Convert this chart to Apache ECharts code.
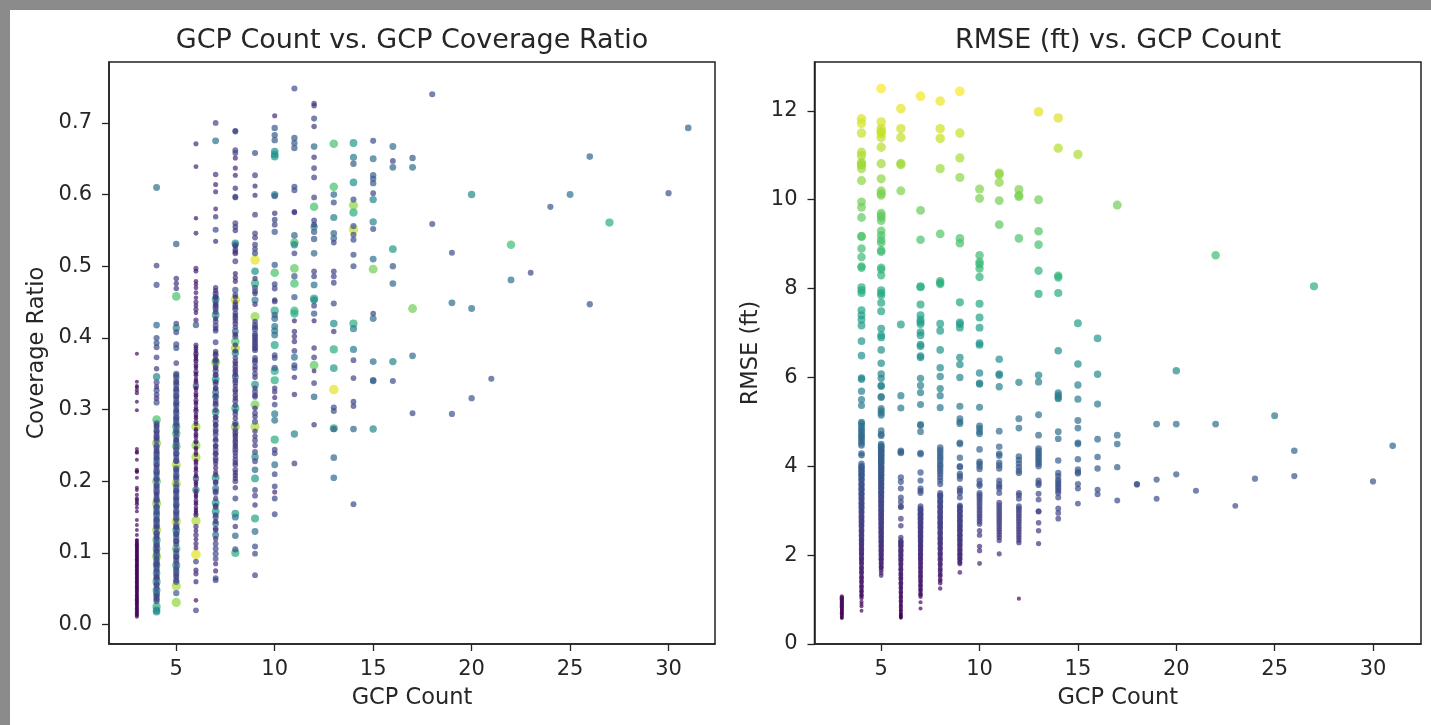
<!DOCTYPE html>
<html><head><meta charset="utf-8">
<style>html,body{margin:0;padding:0;background:#8b8b8b;overflow:hidden}#c{width:1431px;height:725px;filter:blur(0.7px)}</style>
<script src="https://cdn.jsdelivr.net/npm/echarts@6/dist/echarts.min.js"></script>
</head><body><div id="c"></div>
<script>
// RMSE (ft), one list per GCP count
const rmse3=[0.58,0.6,0.62,0.65,0.67,0.69,0.71,0.73,0.75,0.77,0.79,0.81,0.83,0.85,0.87,0.89,0.91,0.93,0.95,0.97,0.99,1.01,1.03,1.05,1.07];
const rmse4=[11.82,11.72,11.5,11.07,10.99,10.84,10.8,10.78,10.7,10.43,9.95,9.83,9.6,9.18,9.17,8.9,8.71,8.5,8.47,8.03,7.96,7.9,7.51,7.4,7.3,7.17,6.82,6.49,5.99,5.96,5.69,5.5,5.37,4.99,4.96,4.9,4.84,4.8,4.75,4.7,4.66,4.62,4.57,4.52,4.47,4.29,4.25,4.06,4.01,3.97,3.92,3.87,3.82,3.78,3.72,3.67,3.61,3.56,3.51,3.46,3.4,3.36,3.31,3.25,3.2,3.15,3.1,3.05,3,2.95,2.89,2.84,2.79,2.74,2.69,2.64,2.58,2.53,2.48,2.42,2.37,2.32,2.27,2.21,2.16,2.11,2.06,2.01,1.95,1.9,1.85,1.8,1.74,1.69,1.64,1.59,1.53,1.48,1.43,1.38,1.32,1.27,1.22,1.17,1.12,1.07,1.03,0.95,0.9,0.85,0.75,3.98,3.89,3.8,3.7,3.59,3.48,3.38,3.28,3.17,3.08,2.97,2.86,2.76,2.66,2.55,2.45,2.34,2.24,2.13,2.03,1.92,1.82,1.71,1.61,1.5,1.4,1.29,1.19,1.09];
const rmse5=[12.5,11.75,11.6,11.54,11.5,11.4,11.18,10.81,10.47,10.2,10.14,10.1,9.7,9.64,9.6,9.53,9.3,9.2,9.1,9.03,8.86,8.83,8.47,8.43,8.3,7.96,7.9,7.85,7.68,7.49,7.1,6.95,6.9,6.62,6.32,6.08,5.98,5.82,5.8,5.57,5.55,5.3,5.25,5.2,5.15,4.8,4.72,4.69,4.5,4.46,4.42,4.37,4.33,4.28,4.24,4.19,4.15,4.1,4.06,4.01,3.96,3.92,3.87,3.82,3.78,3.73,3.68,3.63,3.58,3.54,3.49,3.44,3.39,3.34,3.29,3.24,3.19,3.14,3.09,3.04,2.99,2.94,2.89,2.84,2.79,2.74,2.69,2.64,2.59,2.54,2.49,2.44,2.39,2.34,2.29,2.24,2.19,2.14,2.09,2.04,1.99,1.94,1.9,1.85,1.8,1.75,1.71,1.66,1.6,1.54,4.44,4.35,4.26,4.17,4.08,3.98,3.89,3.8,3.7,3.61,3.51,3.41,3.31,3.21,3.11,3.01,2.91,2.81,2.71,2.61,2.51,2.41,2.31,2.21,2.11,2.01,1.91,1.81,1.72];
const rmse6=[12.05,11.6,11.4,10.82,10.79,10.2,7.19,5.59,5.31,4.35,4.32,4.3,3.75,3.65,3.5,3.3,3.2,3.1,3.08,2.82,2.66,2.4,2.33,2.28,2.24,2.19,2.13,2.08,2.03,1.97,1.92,1.87,1.82,1.76,1.71,1.66,1.6,1.55,1.5,1.45,1.39,1.34,1.29,1.24,1.18,1.13,1.08,1.03,0.98,0.93,0.88,0.83,0.79,0.74,0.7,0.66,0.62,0.59,2.3,2.21,2.1,2,1.9,1.79,1.68,1.58,1.47,1.37,1.26,1.16,1.06,0.96,0.86,0.76,0.68,0.64,0.6];
const rmse7=[12.33,9.76,9.1,8.05,8.03,7.64,7.4,7.3,7.25,7.2,7.02,6.95,6.74,6.7,6.48,6.45,5.98,5.82,5.66,5.39,4.94,4.92,4.78,4.3,4.27,3.86,3.68,3.5,3.45,3.4,3.1,3.05,3,2.95,2.9,2.85,2.8,2.75,2.7,2.65,2.6,2.55,2.5,2.45,2.4,2.35,2.3,2.25,2.2,2.15,2.1,2.05,2,1.95,1.9,1.85,1.8,1.75,1.7,1.65,1.6,1.55,1.5,1.45,1.4,1.35,1.3,1.25,1.2,1.15,1.1,1.06,0.94,0.8,3.02,2.92,2.82,2.72,2.62,2.52,2.42,2.32,2.22,2.12,2.02,1.92,1.82,1.72,1.62,1.52,1.42,1.32,1.22,1.12];
const rmse8=[12.22,11.6,11.38,10.7,9.23,8.17,8.13,8.1,7.21,7.05,6.62,6.22,6.02,5.75,5.59,5.32,4.42,4.36,4.3,4.24,4.18,4.12,4.05,4,3.94,3.88,3.82,3.75,3.68,3.6,3.4,3.35,3.3,3.24,3.18,3.12,3.06,3,2.94,2.88,2.82,2.76,2.7,2.65,2.59,2.53,2.47,2.41,2.35,2.3,2.24,2.18,2.12,2.06,2,1.94,1.88,1.82,1.76,1.7,1.64,1.58,1.52,1.45,1.37,1.25,3.33,3.21,3.09,2.97,2.85,2.73,2.62,2.5,2.38,2.27,2.15,2.03,1.91,1.79,1.67,1.55,1.42];
const rmse9=[12.44,11.5,10.94,10.5,9.13,9.02,7.69,7.24,7.2,7.12,6.45,6.29,6,5.35,5.07,5,4.96,4.53,4.5,4.19,4,3.98,3.83,3.78,3.72,3.5,3.45,3.4,3.3,3.12,3.07,3.02,2.97,2.91,2.86,2.8,2.75,2.7,2.64,2.59,2.54,2.48,2.43,2.38,2.32,2.27,2.21,2.16,2.1,2.05,2,1.95,1.9,1.85,1.8,1.61,3.09,2.99,2.88,2.77,2.66,2.56,2.45,2.34,2.23,2.12,2.02,1.92,1.83];
const rmse10=[10.24,10.03,8.75,8.6,8.55,8.45,8.26,7.66,7.35,7.12,6.77,6.73,6.1,5.87,5.85,5.33,4.91,4.85,4.78,4.73,4.38,4.1,4.06,4,3.94,3.68,3.6,3.56,3.4,3.35,3.3,3.24,3.18,3.12,3.06,3,2.94,2.88,2.82,2.76,2.7,2.55,2.45,2.2,2.1,1.81];
const rmse11=[10.6,10.57,10.39,9.98,9.44,6.41,6.08,6.05,5.79,4.79,4.44,4.28,4.24,4.08,4.02,3.95,3.68,3.6,3.55,3.5,3.4,3.18,3.12,3.06,3,2.94,2.88,2.82,2.76,2.7,2.64,2.58,2.52,2.46,2.4,2.33,2.03];
const rmse12=[10.23,10.1,10.07,9.13,5.89,5.07,4.86,4.22,4.14,4.06,3.98,3.9,3.85,3.4,3.35,3.27,3.1,3.05,3,2.94,2.88,2.82,2.76,2.7,2.64,2.58,2.52,2.46,2.4,2.34,2.28,1.02];
const rmse13=[11.98,10,9.29,8.99,8.4,7.88,6.05,5.9,5.16,4.7,4.4,4.35,4.3,4.25,4.2,4.15,4.1,4.05,4,3.68,3.62,3.58,3.38,3.25,2.99,2.98,2.73,2.55,2.26];
const rmse14=[11.84,11.16,8.29,8.25,7.9,6.6,5.65,5.6,5.55,5.52,4.78,4.62,4.13,3.85,3.78,3.7,3.65,3.6,3.55,3.5,3.45,3.4,3.3,3.05,2.95,2.82];
const rmse15=[11.02,7.22,6.3,5.83,5.51,5.03,4.86,4.53,4.5,4.16,3.93,3.87,3.84,3.6,3.5,3.16];
const rmse16=[6.88,6.07,5.4,4.61,4.21,3.95,3.47,3.37];
const rmse17=[9.88,4.7,4.5,3.98,3.23];
const rmse18=[3.6,3.59];
const rmse19=[4.95,3.7,3.27];
const rmse20=[6.15,4.95,3.82];
const rmse21=[3.45];
const rmse22=[8.75,4.95];
const rmse23=[3.11];
const rmse24=[3.72];
const rmse25=[5.14];
const rmse26=[4.35,3.78];
const rmse27=[8.05];
const rmse30=[3.66];
const rmse31=[4.46];

// Coverage ratio, with the RMSE that its colour shows: [ratio, rmse]
const cov3=[[0.378,.9],[0.339,.9],[0.333,.8],[0.327,.95],[0.323,1.05],[0.311,.8],[0.299,.85],[0.245,.9],[0.24,1],[0.23,.8],[0.216,.95],[0.213,1.05],[0.205,.9],[0.188,.8],[0.181,.9],[0.176,1],[0.171,.9],[0.168,1.05],[0.158,.75],[0.146,.9],[0.139,.8],[0.132,.7],[0.125,.85],[0.118,.9],[0.115,.7],[0.112,.8],[0.109,1],[0.106,.65],[0.103,.9],[0.1,.75],[0.097,.85],[0.094,.6],[0.091,1.05],[0.088,.7],[0.085,.8],[0.082,.95],[0.079,.65],[0.076,.85],[0.073,.7],[0.07,.9],[0.067,.6],[0.064,1],[0.061,.75],[0.058,.85],[0.055,.65],[0.052,.95],[0.049,.7],[0.046,.8],[0.043,.6],[0.04,.9],[0.037,.7],[0.034,1],[0.031,.65],[0.028,.85],[0.025,.75],[0.022,.9],[0.019,.6],[0.016,.8],[0.013,.7],[0.011,.9],
[0.117,.8],[0.113,.7],[0.11,.9],[0.107,.75],[0.104,.85],[0.101,.65],[0.098,.8],[0.095,.9],[0.092,.7],[0.089,.85],[0.086,.75],[0.083,.65],[0.08,.9],[0.077,.8],[0.074,.7],[0.071,.85],[0.068,.75],[0.065,.9],[0.062,.65],[0.059,.8],[0.056,.7],[0.053,.85],[0.05,.75],[0.047,.9],[0.044,.65],[0.041,.8],[0.038,.7],[0.035,.85],[0.032,.75],[0.029,.9],[0.026,.65],[0.023,.8],[0.02,.7],[0.017,.85],[0.014,.75],[0.241,.9],[0.214,1],[0.191,.9],[0.174,.95],[0.163,.8],[0.331,.9]];
const cov4=[[0.61,5],[0.501,3],[0.474,3.5],[0.418,4.5],[0.4,3.5],[0.393,3.6],[0.387,3.2],[0.373,3],[0.357,2.5],[0.346,6],[0.338,3.4],[0.332,2],[0.327,3.5],[0.321,3],[0.316,2.6],[0.31,3.6],[0.286,9],[0.281,3.5],[0.276,3.2],[0.271,3.8],[0.266,3],[0.262,4],[0.257,3.4],[0.253,10.5],[0.247,3.8],[0.243,3],[0.238,4.2],[0.234,3.4],[0.229,4],[0.224,4.5],[0.219,3.2],[0.214,4.8],[0.209,3.6],[0.204,4.2],[0.2,9.5],[0.195,3.4],[0.19,3.8],[0.186,4.6],[0.181,3],[0.176,4],[0.172,3.6],[0.169,10.5],[0.163,5],[0.158,4.2],[0.153,5.2],[0.148,3.8],[0.144,5],[0.139,4.4],[0.135,3.6],[0.132,11],[0.127,4.2],[0.123,3.4],[0.118,8],[0.113,4.6],[0.109,3.2],[0.106,7],[0.101,4],[0.097,5],[0.095,10.5],[0.09,3.6],[0.086,4.4],[0.083,6],[0.078,3.8],[0.072,6.5],[0.068,3.2],[0.064,4.2],[0.06,8],[0.055,3.6],[0.048,7],[0.043,5],[0.038,4.2],[0.033,3.8],[0.025,8],[0.02,6],[0.018,6.5],
[0.278,2.8],[0.269,3],[0.26,2.6],[0.25,3],[0.241,2.8],[0.232,3.2],[0.222,2.6],[0.212,3],[0.202,2.8],[0.193,3],[0.183,2.6],[0.174,3],[0.165,2.8],[0.156,3.2],[0.146,3],[0.137,2.8],[0.128,3.2],[0.12,2.8],[0.111,3],[0.103,2.6],[0.093,3],[0.084,2.8],[0.075,3],[0.066,2.8],[0.057,3],[0.05,3.2],[0.041,2.8],[0.035,3]];
const cov5=[[0.531,4.2],[0.483,2.5],[0.476,2.2],[0.469,2.6],[0.458,9],[0.42,3],[0.414,6],[0.408,3.2],[0.391,3.5],[0.386,3.6],[0.365,3],[0.35,3.8],[0.345,4],[0.34,3.4],[0.335,3.8],[0.33,3.2],[0.325,4],[0.32,3.6],[0.315,3],[0.31,4.2],[0.305,3.6],[0.3,3.2],[0.295,4],[0.29,3.8],[0.285,3.4],[0.281,4.2],[0.276,8],[0.271,3.6],[0.267,9],[0.262,3.8],[0.257,3.4],[0.253,4],[0.249,9],[0.244,3.6],[0.239,4.2],[0.234,3.2],[0.229,3.8],[0.223,11],[0.218,4],[0.213,3.4],[0.208,4.4],[0.203,3.6],[0.197,11.5],[0.192,3.8],[0.187,4.2],[0.183,3.4],[0.178,4],[0.173,3.6],[0.168,4.6],[0.164,3.2],[0.159,4],[0.154,3.6],[0.149,4.2],[0.144,11.5],[0.139,3.8],[0.135,3.4],[0.132,7],[0.127,4],[0.122,3.6],[0.117,4.4],[0.112,3.2],[0.106,9],[0.1,3.8],[0.095,4.2],[0.09,3.4],[0.083,7.5],[0.076,3.6],[0.072,4],[0.066,3.2],[0.06,4.2],[0.054,11],[0.044,4],[0.031,10.5],
[0.348,3],[0.338,2.8],[0.328,3],[0.318,3.2],[0.308,2.8],[0.298,3],[0.288,3.2],[0.278,2.8],[0.268,3],[0.258,2.8],[0.248,3.2],[0.238,3],[0.228,2.8],[0.216,3],[0.206,2.8],[0.196,3.2],[0.186,3],[0.176,2.8],[0.166,3],[0.156,3.2],[0.146,2.8],[0.136,3],[0.126,3.2],[0.116,2.8],[0.104,3],[0.094,2.8],[0.086,3],[0.079,3.2],[0.069,2.8],[0.062,3]];
const cov6=[[0.671,2],[0.639,1.8],[0.567,1.2],[0.546,1.8],[0.497,2],[0.493,1.8],[0.479,1.5],[0.475,1.2],[0.47,1.6],[0.463,1.8],[0.456,1.4],[0.45,2],[0.445,1.6],[0.44,2.2],[0.435,1.4],[0.425,2.2],[0.418,4],[0.39,2],[0.384,1.6],[0.378,2.4],[0.373,1.2],[0.368,2],[0.363,1.6],[0.358,1.3],[0.353,2.2],[0.348,1.5],[0.343,1.2],[0.338,1.8],[0.333,4],[0.328,1.4],[0.323,1.6],[0.318,1.2],[0.313,2],[0.308,1.5],[0.303,1.3],[0.298,2.4],[0.293,1.4],[0.288,1.2],[0.283,1.8],[0.276,11],[0.271,1.3],[0.266,1.6],[0.261,1.2],[0.256,1.9],[0.25,10.5],[0.245,1.2],[0.234,11],[0.24,1.5],[0.229,1.3],[0.224,1.7],[0.219,1.2],[0.214,1.5],[0.209,1.3],[0.204,4],[0.199,1.6],[0.194,1.2],[0.188,6],[0.183,1.4],[0.178,1.2],[0.173,1.7],[0.168,1.3],[0.163,1.5],[0.158,1.2],[0.153,2],[0.145,11],[0.137,2.2],[0.131,1.8],[0.125,2.4],[0.119,1.6],[0.113,2],[0.107,1.8],[0.098,12],[0.088,3],[0.076,2],[0.071,2.2],[0.06,2],[0.034,1.5],[0.02,3],
[0.387,1.4],[0.381,1.2],[0.375,1.5],[0.37,1.3],[0.36,1.4],[0.35,1.2],[0.34,1.5],[0.33,1.3],[0.32,1.4],[0.31,1.2],[0.3,1.5],[0.29,1.3],[0.28,1.4],[0.273,1.2],[0.264,1.5],[0.254,1.3],[0.247,1.4],[0.237,1.2],[0.227,1.5],[0.217,1.3],[0.207,1.4],[0.197,1.2],[0.187,1.5],[0.18,1.3],[0.17,1.4],[0.16,1.2],[0.155,1.4]];
const cov7=[[0.7,3],[0.675,5],[0.628,2.5],[0.614,2],[0.604,2],[0.58,1.8],[0.569,2.5],[0.551,3.5],[0.535,2],[0.47,2.5],[0.462,3.5],[0.458,3],[0.454,7],[0.449,3.2],[0.444,3.8],[0.44,3],[0.432,7],[0.423,3],[0.417,3.4],[0.41,2.8],[0.394,3],[0.381,2.6],[0.376,3.2],[0.37,2.8],[0.367,6],[0.366,11.5],[0.36,3],[0.354,3.6],[0.348,2.8],[0.342,7],[0.336,3.2],[0.33,3],[0.324,5],[0.318,5.2],[0.312,2.8],[0.306,3.4],[0.297,7],[0.29,3],[0.284,3.6],[0.278,2.8],[0.272,3.2],[0.265,3],[0.257,3.4],[0.25,2.6],[0.244,3],[0.238,3.4],[0.232,2.8],[0.225,2],[0.213,2],[0.205,7],[0.198,3],[0.19,5],[0.184,3.4],[0.17,7],[0.164,3],[0.158,7],[0.15,3.6],[0.141,5],[0.134,3],[0.125,5],[0.113,3],[0.106,3.2],[0.099,3.5],[0.092,3],[0.085,2],[0.075,2],[0.065,3],[0.062,3],
[0.466,2.2],[0.456,2.4],[0.446,2.2],[0.436,2.6],[0.427,2.2],[0.413,2.4],[0.378,2.2],[0.368,2.4],[0.358,2.2],[0.349,2.6],[0.339,2.2],[0.329,2.4],[0.319,2.2],[0.309,2.6],[0.299,2.2],[0.289,2.4],[0.279,2.2],[0.269,2.6],[0.259,2.2],[0.249,2.4],[0.239,2.2],[0.229,2.6],[0.219,2.2],[0.209,2.4],[0.199,2.2],[0.186,2.6],[0.176,2.2],[0.166,2.4],[0.153,2.6],[0.144,2.2],[0.132,2.4],[0.12,2.2]];
const cov8=[[0.689,3],[0.688,3],[0.662,3],[0.658,3],[0.651,2],[0.637,2],[0.627,2],[0.609,2.5],[0.597,3],[0.596,3],[0.56,3],[0.555,3],[0.55,2.6],[0.532,6.5],[0.53,4],[0.523,3],[0.518,3],[0.507,3],[0.49,2],[0.484,2.2],[0.479,2],[0.467,4],[0.46,3],[0.453,11.5],[0.446,3],[0.44,3.4],[0.434,2.8],[0.428,3.2],[0.42,3],[0.409,5],[0.402,3.4],[0.395,9],[0.386,11],[0.379,6],[0.367,3],[0.36,3.2],[0.353,2.8],[0.346,5],[0.338,3],[0.328,3],[0.32,2.6],[0.312,3.2],[0.302,7.5],[0.294,3],[0.281,4],[0.276,10.5],[0.268,3.2],[0.262,2.8],[0.255,3],[0.248,2.6],[0.244,3.2],[0.23,3],[0.223,2.8],[0.216,3],[0.208,2.4],[0.2,3],[0.191,2.5],[0.176,3],[0.155,7],[0.15,5],[0.137,2.5],[0.124,4.5],[0.105,3.5],[0.1,8],
[0.528,2.4],[0.52,2.2],[0.457,2.4],[0.45,2.2],[0.443,2.6],[0.431,2.2],[0.424,2.4],[0.415,2.6],[0.405,2.2],[0.39,2.4],[0.382,2.2],[0.372,2.6],[0.364,2.2],[0.356,2.4],[0.349,2.2],[0.341,2.6],[0.333,2.2],[0.325,2.4],[0.316,2.2],[0.306,2.6],[0.298,2.2],[0.288,2.4],[0.279,2.2],[0.272,2.6],[0.265,2.2],[0.258,2.4],[0.251,2.2],[0.24,2.6],[0.235,2.2],[0.226,2.4],[0.212,2.2],[0.204,2.4]];
const cov9=[[0.658,3.5],[0.627,3],[0.612,2],[0.599,2],[0.572,3],[0.546,3],[0.54,3],[0.53,3],[0.524,3],[0.518,3.5],[0.509,12],[0.493,6.5],[0.476,8],[0.47,3.5],[0.465,3],[0.453,5.5],[0.43,10.5],[0.418,3.5],[0.412,3.8],[0.406,3.2],[0.4,3.6],[0.394,3.4],[0.388,3.8],[0.383,3.2],[0.372,3],[0.366,3.2],[0.36,2.8],[0.35,3],[0.335,7],[0.325,3.4],[0.318,3],[0.307,10],[0.295,3],[0.283,3.5],[0.276,11],[0.263,2.5],[0.257,3],[0.241,3.2],[0.234,6],[0.228,3],[0.216,4.5],[0.204,7],[0.188,3],[0.18,3],[0.167,2.5],[0.148,7.5],[0.13,5],[0.109,3.5],[0.099,3],[0.069,3],
[0.483,2.4],[0.462,2.6],[0.447,2.4],[0.423,2.6],[0.415,2.4],[0.403,2.6],[0.397,2.4],[0.391,2.6],[0.385,2.4],[0.369,2.6],[0.356,2.4],[0.345,2.6],[0.33,2.4],[0.32,2.6],[0.302,2.4],[0.29,2.6],[0.27,2.4],[0.25,2.6]];
const cov10=[[0.71,2],[0.693,4],[0.683,4],[0.676,4],[0.66,6.5],[0.656,6.5],[0.653,7],[0.6,6],[0.598,4],[0.574,2.5],[0.565,3],[0.558,3],[0.548,4],[0.502,4],[0.491,9],[0.475,3],[0.469,3],[0.453,2.5],[0.451,3],[0.438,8],[0.432,4],[0.427,5],[0.416,5],[0.41,5.5],[0.404,5],[0.39,7.5],[0.376,3],[0.372,3],[0.358,4],[0.354,8],[0.341,8],[0.33,2.5],[0.325,2.5],[0.317,2],[0.307,3],[0.294,5.5],[0.285,5],[0.258,8],[0.244,3],[0.239,3],[0.223,5],[0.21,3],[0.193,3],[0.185,2],[0.176,3],[0.154,3]];
const cov11=[[0.748,3.5],[0.679,4],[0.672,4],[0.665,4],[0.611,3.5],[0.606,3.5],[0.576,2.5],[0.575,2.5],[0.543,4.5],[0.533,9],[0.53,6],[0.518,3],[0.497,9.5],[0.486,4],[0.476,9],[0.457,4],[0.438,8.5],[0.434,8],[0.424,2],[0.409,2.5],[0.402,2.5],[0.395,2.5],[0.382,3],[0.373,5],[0.362,3.5],[0.358,3.5],[0.345,2.5],[0.321,2.5],[0.266,6],[0.225,3]];
const cov12=[[0.727,2.5],[0.724,2.5],[0.706,3.5],[0.695,2.5],[0.667,4.5],[0.652,2.5],[0.637,3],[0.624,3],[0.596,3],[0.583,9],[0.564,3],[0.558,3],[0.555,6],[0.548,4],[0.538,4],[0.518,4.5],[0.493,3],[0.486,3],[0.474,5],[0.455,8],[0.453,6],[0.445,3],[0.434,4],[0.424,2],[0.386,2.5],[0.373,3],[0.362,9.5],[0.354,1.8],[0.337,3],[0.318,4.5],[0.279,2.5]];
const cov13=[[0.671,9],[0.611,9],[0.6,4.5],[0.589,3.5],[0.568,5.5],[0.546,4.5],[0.539,4.5],[0.533,3],[0.493,3],[0.486,3],[0.477,3],[0.448,3.5],[0.42,6.5],[0.409,2.5],[0.384,8],[0.358,7],[0.328,12],[0.303,3.5],[0.298,3.5],[0.274,8],[0.273,4],[0.233,4.5],[0.205,4.5]];
const cov14=[[0.672,7],[0.652,5.5],[0.643,4],[0.617,6.5],[0.593,3.5],[0.585,10.5],[0.575,8],[0.556,3.5],[0.551,11.5],[0.544,3.5],[0.537,3.5],[0.516,3.5],[0.5,3.5],[0.42,8],[0.413,5.5],[0.384,5.5],[0.369,3],[0.344,3],[0.311,3],[0.305,3],[0.273,4.5],[0.168,3.2]];
const cov15=[[0.675,3.5],[0.65,5],[0.627,4],[0.622,4],[0.616,4],[0.602,3],[0.593,6],[0.562,6],[0.552,3.5],[0.51,5],[0.496,10],[0.434,3],[0.427,5],[0.367,5],[0.341,4.2],[0.34,4.2],[0.273,6]];
const cov16=[[0.667,5],[0.647,3],[0.638,4.5],[0.524,7],[0.5,4],[0.476,4.5],[0.367,6],[0.34,3.5]];
const cov17=[[0.651,4],[0.638,5],[0.441,9.9],[0.375,4.7],[0.295,3.2]];
const cov18=[[0.74,3.5],[0.559,3.5]];
const cov19=[[0.519,3.3],[0.449,4.9],[0.294,3.7]];
const cov20=[[0.6,6.15],[0.441,4.95],[0.316,3.82]];
const cov21=[[0.343,3.45]];
const cov22=[[0.53,8.75],[0.481,4.95]];
const cov23=[[0.491,3.11]];
const cov24=[[0.583,3.72]];
const cov25=[[0.6,5.14]];
const cov26=[[0.653,4.35],[0.447,3.78]];
const cov27=[[0.561,8.05]];
const cov30=[[0.602,3.66]];
const cov31=[[0.693,4.46]];

const counts=[3,4,5,6,7,8,9,10,11,12,13,14,15,16,17,18,19,20,21,22,23,24,25,26,27,30,31];
const rmseLists=[rmse3,rmse4,rmse5,rmse6,rmse7,rmse8,rmse9,rmse10,rmse11,rmse12,rmse13,rmse14,rmse15,rmse16,rmse17,rmse18,rmse19,rmse20,rmse21,rmse22,rmse23,rmse24,rmse25,rmse26,rmse27,rmse30,rmse31];
const covLists=[cov3,cov4,cov5,cov6,cov7,cov8,cov9,cov10,cov11,cov12,cov13,cov14,cov15,cov16,cov17,cov18,cov19,cov20,cov21,cov22,cov23,cov24,cov25,cov26,cov27,cov30,cov31];
const countTicks=[5,10,15,20,25,30];
const ratioTicks=[0,0.1,0.2,0.3,0.4,0.5,0.6,0.7];
const rmseTicks=[0,2,4,6,8,10,12];

const leftData=[],rightData=[];
counts.forEach((n,i)=>{
  covLists[i].forEach(p=>leftData.push([n,p[0],p[1]]));
  rmseLists[i].forEach(v=>rightData.push([n,v,v]));
});
leftData.sort((a,b)=>b[2]-a[2]); // big light dots behind the small dark ones

const viridis=['#440154','#482475','#414487','#355f8d','#2a788e','#21918c','#22a884','#44bf70','#7ad151','#bddf26','#fde725'];
const FONT='DejaVu Sans', INK='#262626';
function xAxis(idx,min,max){return{gridIndex:idx,type:'value',min,max,name:'GCP Count',nameLocation:'middle',nameGap:43,
  nameTextStyle:{fontFamily:FONT,fontSize:22.5,color:INK},
  splitLine:{show:false},axisLine:{show:true,onZero:false,lineStyle:{color:'#222',width:1.5}},
  axisTick:{show:true,length:7,customValues:countTicks,lineStyle:{color:'#222',width:1.3}},
  axisLabel:{customValues:countTicks,fontFamily:FONT,fontSize:21,color:INK,margin:15}};}
function yAxis(idx,min,max,name,gap,ticks,fmt){return{gridIndex:idx,type:'value',min,max,name,nameLocation:'middle',nameGap:gap,
  nameTextStyle:{fontFamily:FONT,fontSize:22.5,color:INK},
  splitLine:{show:false},axisLine:{show:true,onZero:false,lineStyle:{color:'#222',width:1.5}},
  axisTick:{show:true,length:7,customValues:ticks,lineStyle:{color:'#222',width:1.3}},
  axisLabel:{customValues:ticks,formatter:fmt,fontFamily:FONT,fontSize:21,color:INK,margin:17,padding:[3,0,0,0]}};}
const size=v=>2+2.2*Math.sqrt(v[2]);
const chart=echarts.init(document.getElementById('c'),null,{renderer:'canvas'});
chart.setOption({
  animation:false,backgroundColor:'#8b8b8b',
  graphic:[{type:'rect',z:-10,silent:true,shape:{x:10,y:10,width:1421,height:715},style:{fill:'#ffffff'}}],
  title:[
    {text:'GCP Count vs. GCP Coverage Ratio',left:407,top:22,textAlign:'center',textStyle:{fontFamily:FONT,fontSize:27,fontWeight:'normal',color:INK}},
    {text:'RMSE (ft) vs. GCP Count',left:1113,top:22,textAlign:'center',textStyle:{fontFamily:FONT,fontSize:27,fontWeight:'normal',color:INK}}
  ],
  grid:[
    {left:109,top:62,width:606,height:582,show:true,borderColor:'#222',borderWidth:1.5,backgroundColor:'transparent'},
    {left:814.5,top:62,width:606.5,height:582,show:true,borderColor:'#222',borderWidth:1.5,backgroundColor:'transparent'}
  ],
  xAxis:[xAxis(0,1.584,32.36),xAxis(1,1.61,32.44)],
  yAxis:[yAxis(0,-0.027,0.785,'Coverage Ratio',60,ratioTicks,v=>v.toFixed(1)),yAxis(1,0,13.1,'RMSE (ft)',52,rmseTicks,v=>String(v))],
  visualMap:[
    {show:false,seriesIndex:0,dimension:2,min:0.6,max:12.5,inRange:{color:viridis}},
    {show:false,seriesIndex:1,dimension:2,min:0.6,max:12.5,inRange:{color:viridis}}
  ],
  series:[
    {type:'scatter',xAxisIndex:0,yAxisIndex:0,data:leftData,symbolSize:size,itemStyle:{opacity:0.7},emphasis:{disabled:true},silent:true},
    {type:'scatter',xAxisIndex:1,yAxisIndex:1,data:rightData,symbolSize:size,itemStyle:{opacity:0.7},emphasis:{disabled:true},silent:true}
  ]
});
</script></body></html>
